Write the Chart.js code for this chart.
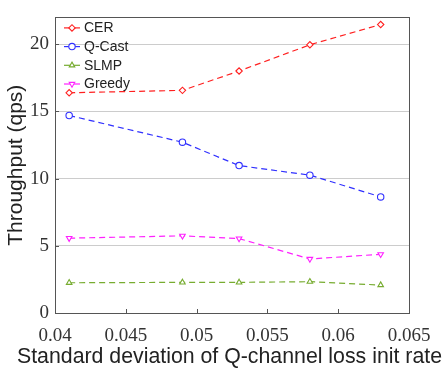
<!DOCTYPE html>
<html><head><meta charset="utf-8">
<script src="https://cdn.jsdelivr.net/npm/chart.js@4/dist/chart.umd.min.js"></script>
<style>html,body{margin:0;padding:0;background:#fff}#wrap{width:443px;height:375px}</style>
</head><body><div id="wrap"><canvas id="c" width="443" height="375"></canvas></div>
<script>
const xValues = [0.041, 0.049, 0.053, 0.058, 0.063];
const cer = [16.39, 16.57, 18.01, 19.96, 21.47];
const qcast = [14.70, 12.71, 10.97, 10.26, 8.64];
const slmp = [2.25, 2.28, 2.28, 2.33, 2.08];
const greedy = [5.57, 5.74, 5.54, 4.02, 4.37];
const xTicks = [0.04, 0.045, 0.05, 0.055, 0.06, 0.065];
const xTickLabels = ["0.04", "0.045", "0.05", "0.055", "0.06", "0.065"];
const yTicks = [0, 5, 10, 15, 20];
const xTitle = 'Standard deviation of Q-channel loss init rate';
const yTitle = 'Throughput (qps)';

function pts(ys){ return xValues.map((x,i)=>({x:x,y:ys[i]})); }
function ds(label, ys, color, style, rot){
  return {label, data: pts(ys), borderColor: color, backgroundColor: '#fff',
    borderWidth: 1.2, borderDash: [6,4], pointStyle: style, pointRotation: rot||0,
    pointRadius: 3.2, pointBorderWidth: 1.1, pointBorderColor: color, pointBackgroundColor:'#fff', tension: 0};
}
const datasets = [
  ds('CER', cer, '#ff2020', 'rectRot'),
  ds('Q-Cast', qcast, '#3030ff', 'circle'),
  ds('SLMP', slmp, '#77ac30', 'triangle'),
  ds('Greedy', greedy, '#ff20ff', 'triangle', 180)
];

const framePlugin = {
  id: 'frame',
  afterDraw(chart){
    const {ctx, chartArea:a, scales} = chart;
    ctx.save();
    ctx.strokeStyle = '#555'; ctx.lineWidth = 1;
    xTicks.forEach(v=>{
      const px = Math.round(scales.x.getPixelForValue(v))+0.5;
      ctx.beginPath(); ctx.moveTo(px, a.bottom); ctx.lineTo(px, a.bottom-4); ctx.stroke();
    });
    yTicks.forEach(v=>{
      const py = Math.round(scales.y.getPixelForValue(v))+0.5;
      ctx.beginPath(); ctx.moveTo(a.left, py); ctx.lineTo(a.left+4, py); ctx.stroke();
    });
    ctx.strokeRect(Math.round(a.left)+0.5, Math.round(a.top)+0.5, Math.round(a.right-a.left), Math.round(a.bottom-a.top));
    // x title (drawn without width compression)
    ctx.fillStyle = '#222';
    ctx.font = '21.3px "Liberation Sans", Arial, sans-serif';
    ctx.textAlign = 'center'; ctx.textBaseline = 'middle';
    ctx.fillText(xTitle, 229.5, 357);
    // legend
    const x0 = a.left + 9, x1 = a.left + 25, tx = a.left + 29;
    ctx.font = '14px "Liberation Sans", Arial, sans-serif';
    ctx.textAlign = 'left';
    chart.data.datasets.forEach((d,i)=>{
      const y = a.top + 10.5 + i*18.7;
      ctx.setLineDash([]);
      ctx.strokeStyle = d.borderColor; ctx.lineWidth = 1.2;
      ctx.beginPath(); ctx.moveTo(x0, y); ctx.lineTo(x1, y); ctx.stroke();
      ctx.fillStyle = '#fff'; ctx.lineWidth = 1.1;
      Chart.helpers.drawPoint(ctx, {pointStyle: d.pointStyle, rotation: d.pointRotation, radius: 3.2, borderWidth: 1.1}, (x0+x1)/2, y);
      ctx.fillStyle = '#222';
      ctx.fillText(d.label, tx, y+0.5);
    });
    ctx.restore();
  }
};

new Chart(document.getElementById('c'), {
  type: 'line',
  data: { datasets },
  options: {
    responsive: false, animation: false, devicePixelRatio: 1,
    layout: { padding: { left: 0, right: 34, top: 15, bottom: 0 } },
    plugins: { legend: { display: false }, tooltip: { enabled: false } },
    scales: {
      x: {
        type: 'linear', min: 0.04, max: 0.065,
        afterBuildTicks(s){ s.ticks = xTicks.map(v=>({value:v})); },
        afterFit(s){ s.height = 62; },
        grid: { display: false },
        border: { display: false },
        ticks: { color: '#333', font: { family: '"Liberation Serif", "Times New Roman", serif', size: 19 }, padding: 4,
          callback(v){ const i = xTicks.findIndex(t=>Math.abs(t-v)<1e-9); return i>=0 ? xTickLabels[i] : ''; }, maxRotation: 0, autoSkip: false },
        title: { display: false }
      },
      y: {
        min: 0, max: 22,
        afterBuildTicks(s){ s.ticks = yTicks.map(v=>({value:v})); },
        afterFit(s){ s.width = 55; },
        grid: { color: '#cccccc', lineWidth: 1, drawTicks: false },
        border: { display: false },
        ticks: { color: '#333', font: { family: '"Liberation Serif", "Times New Roman", serif', size: 19 }, padding: 6 },
        title: { display: true, text: yTitle, color: '#222',
          font: { family: '"Liberation Sans", Arial, sans-serif', size: 21 }, padding: { top: 4, bottom: 0 } }
      }
    }
  },
  plugins: [framePlugin]
});
</script></body></html>
